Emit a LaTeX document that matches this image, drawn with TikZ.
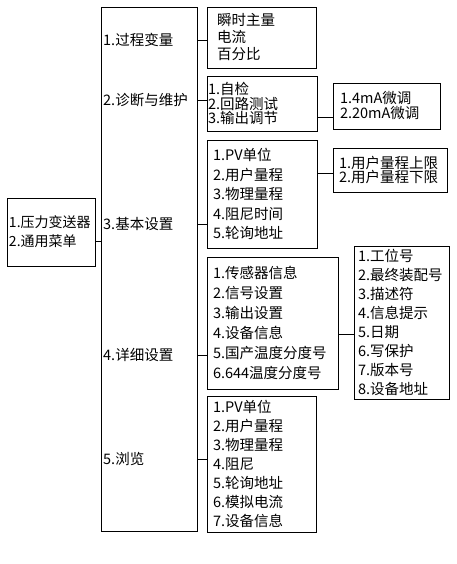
\documentclass[tikz,border=0pt]{standalone}
\usepackage{fontspec}
\usepackage{xcolor}
\usetikzlibrary{positioning, calc}
\newfontfamily\cjkfont{Noto Sans CJK SC}
\definecolor{lineBlack}{RGB}{0,0,0}
\tikzset{
    menubox/.style={
        rectangle,
        draw=lineBlack,
        line width=0.8pt,
        align=left,
        inner ysep=0pt,
        font=\cjkfont\fontsize{14.5}{#1}\selectfont
    },
    menubox/.default=17,
    menulabel/.style={
        anchor=west,
        inner xsep=2pt,
        font=\cjkfont\fontsize{14.5}{17}\selectfont
    },
    link/.style={draw=lineBlack, line width=0.8pt}
}

\begin{document}
\begin{tikzpicture}[x=1pt, y=-1pt]
        \useasboundingbox (0,0) rectangle (457,564);
        \node[menubox=19, text width=84pt, inner xsep=2pt, minimum height=68pt, font=\cjkfont\fontsize{14}{19}\selectfont] (root) at (51,232) {1.压力变送器\\2.通用菜单};
        \node[menubox, minimum width=96pt, minimum height=524pt] (menu) at (149,269) {};
        \node[menulabel] (pvlab) at (101,40) {1.过程变量};
        \node[menulabel] (diaglab) at (101,100) {2.诊断与维护};
        \node[menulabel] (basiclab) at (101,224) {3.基本设置};
        \node[menulabel] (detaillab) at (101,355) {4.详细设置};
        \node[menulabel] (browselab) at (101,459) {5.浏览};
        \node[menubox=17, text width=89pt, inner xsep=10pt, minimum height=61pt] (pv) at (261.5,37.5) {瞬时主量\\电流\\百分比};
        \node[menubox=14.5, text width=108pt, inner xsep=1pt, minimum height=55pt] (diag) at (262,103.5) {1.自检\\2.回路测试\\3.输出调节};
        \node[menubox=15, text width=93pt, inner xsep=7pt, minimum height=46pt] (adj) at (386.5,106) {1.4mA微调\\2.20mA微调};
        \node[menubox=19.5, text width=98pt, inner xsep=6pt, minimum height=108pt] (basic) at (262,194) {1.PV单位\\2.用户量程\\3.物理量程\\4.阻尼时间\\5.轮询地址};
        \node[menubox=14, text width=102pt, inner xsep=6pt, minimum height=44pt] (range) at (390,170) {1.用户量程上限\\2.用户量程下限};
        \node[menubox=20, text width=119pt, inner xsep=6pt, minimum height=132pt] (detail) at (272.5,323) {1.传感器信息\\2.信号设置\\3.输出设置\\4.设备信息\\5.国产温度分度号\\6.644温度分度号};
        \node[menubox=19, text width=87pt, inner xsep=4pt, minimum height=153pt] (info) at (401.5,322.5) {1.工位号\\2.最终装配号\\3.描述符\\4.信息提示\\5.日期\\6.写保护\\7.版本号\\8.设备地址};
        \node[menubox=19, text width=97pt, inner xsep=6pt, minimum height=136pt] (browse) at (261.5,464) {1.PV单位\\2.用户量程\\3.物理量程\\4.阻尼\\5.轮询地址\\6.模拟电流\\7.设备信息};
        \coordinate (rootout) at ([yshift=-9pt]root.east);
        \coordinate (diagout) at ([yshift=-13.5pt]diag.east);
        \coordinate (basicout) at ([yshift=21pt]basic.east);
        \coordinate (detailout) at ([yshift=-11pt]detail.east);
        \draw[link] (rootout) -- (rootout -| menu.west);
        \draw[link] (pvlab -| menu.east) -- (pvlab -| pv.west);
        \draw[link] (diaglab -| menu.east) -- (diaglab -| diag.west);
        \draw[link] (basiclab -| menu.east) -- (basiclab -| basic.west);
        \draw[link] (detaillab -| menu.east) -- (detaillab -| detail.west);
        \draw[link] (browselab -| menu.east) -- (browselab -| browse.west);
        \draw[link] (diagout) -- (diagout -| adj.west);
        \draw[link] (basicout) -- (basicout -| range.west);
        \draw[link] (detailout) -- (detailout -| info.west);
    \end{tikzpicture}
\end{document}
